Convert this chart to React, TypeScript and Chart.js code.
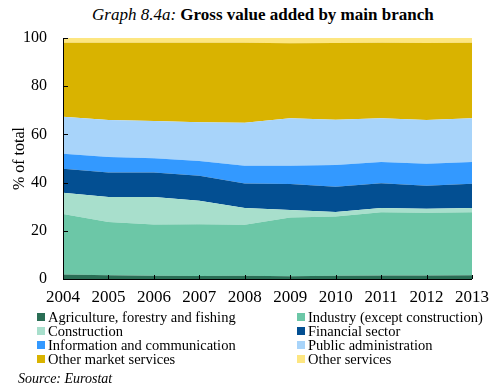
import React, { useEffect, useRef } from "react";
import { Chart, registerables } from "chart.js";

Chart.register(...registerables);

const years = ["2004", "2005", "2006", "2007", "2008", "2009", "2010", "2011", "2012", "2013"];
const agriculture = [1.9, 1.6, 1.3, 1.2, 1.3, 1.1, 1.3, 1.5, 1.5, 1.6];
const industry = [25.1, 22.0, 21.3, 21.5, 21.2, 24.4, 24.6, 26.2, 26.0, 26.1];
const construction = [8.8, 10.4, 11.4, 9.8, 7.0, 3.1, 1.9, 1.8, 1.7, 1.8];
const financial = [9.9, 10.2, 10.2, 10.3, 10.1, 10.8, 10.5, 10.2, 9.5, 10.0];
const information = [6.3, 6.4, 5.9, 6.2, 7.4, 7.6, 9.0, 8.8, 9.1, 9.0];
const publicAdmin = [15.3, 15.4, 15.5, 16.0, 17.8, 19.7, 18.8, 18.2, 18.2, 18.2];
const otherMarket = [30.7, 32.0, 32.4, 33.0, 33.2, 31.1, 31.8, 31.3, 31.9, 31.3];
const otherServices = [2.0, 2.0, 2.0, 2.0, 2.0, 2.2, 2.1, 2.0, 2.1, 2.0];
const yTicks = [0, 20, 40, 60, 80, 100];

const seriesNames = [
  "Agriculture, forestry and fishing",
  "Industry (except construction)",
  "Construction",
  "Financial sector",
  "Information and communication",
  "Public administration",
  "Other market services",
  "Other services",
];
const seriesData = [agriculture, industry, construction, financial, information, publicAdmin, otherMarket, otherServices];
const seriesColors = ["#2a6e55", "#6cc7a7", "#a8dfcc", "#034f92", "#3399ff", "#a8d4fa", "#d9b300", "#fde681"];

const FONT = "'Liberation Serif', 'Times New Roman', serif";

const axisPlugin = {
  id: "inwardTicks",
  afterDatasetsDraw(chart: any) {
    const { ctx, chartArea, scales } = chart;
    const x = scales.x;
    const y = scales.y;
    ctx.save();
    ctx.strokeStyle = "#000";
    ctx.lineWidth = 1;
    ctx.beginPath();
    ctx.moveTo(Math.round(chartArea.left) + 0.5, chartArea.top);
    ctx.lineTo(Math.round(chartArea.left) + 0.5, Math.round(chartArea.bottom) + 0.5);
    ctx.lineTo(chartArea.right, Math.round(chartArea.bottom) + 0.5);
    ctx.stroke();
    ctx.beginPath();
    years.forEach((_, i) => {
      const px = Math.round(x.getPixelForValue(i)) + 0.5;
      ctx.moveTo(px, chartArea.bottom);
      ctx.lineTo(px, chartArea.bottom - 4);
    });
    yTicks.forEach((v) => {
      const py = Math.round(y.getPixelForValue(v)) + 0.5;
      ctx.moveTo(chartArea.left, py);
      ctx.lineTo(chartArea.left + 5, py);
    });
    ctx.stroke();
    ctx.restore();
  },
};

export default function App() {
  const ref = useRef<HTMLCanvasElement>(null);
  useEffect(() => {
    if (!ref.current) return;
    const chart = new Chart(ref.current, {
      type: "line",
      data: {
        labels: years,
        datasets: seriesData.map((d, i) => ({
          label: seriesNames[i],
          data: d,
          backgroundColor: seriesColors[i],
          borderColor: seriesColors[i],
          borderWidth: 0,
          pointRadius: 0,
          tension: 0,
          fill: i === 0 ? "origin" : "-1",
        })),
      },
      options: {
        animation: false,
        responsive: false,
        maintainAspectRatio: false,
        layout: { padding: { left: 0, right: 17, top: 38, bottom: 0 } },
        plugins: { legend: { display: false }, tooltip: { enabled: false }, title: { display: false } },
        scales: {
          x: {
            offset: false,
            grid: { display: false, drawTicks: false },
            border: { display: false },
            ticks: { color: "#000", font: { family: FONT, size: 17, lineHeight: "38px" }, padding: 0, maxRotation: 0, autoSkip: false },
            afterFit: (s: any) => {
              s.height = 31;
            },
          },
          y: {
            stacked: true,
            min: 0,
            max: 100,
            grid: { display: false, drawTicks: false },
            border: { display: false },
            ticks: { stepSize: 20, color: "#000", font: { family: FONT, size: 16 }, padding: 16 },
            title: { display: true, text: "% of total", color: "#000", font: { family: FONT, size: 16 }, padding: { top: 10, bottom: 0 } },
            afterFit: (s: any) => {
              s.width = 63;
            },
          },
        },
      },
      plugins: [axisPlugin],
    });
    return () => chart.destroy();
  }, []);

  const legendRows = [0, 1, 2, 3];
  return (
    <div style={{ position: "absolute", left: 0, top: 0, width: 489, height: 385, background: "#fff", fontFamily: FONT, color: "#000" }}>
      <div style={{ position: "absolute", left: 92, top: 5, fontSize: 17, whiteSpace: "nowrap", lineHeight: "20px" }}>
        <i>Graph 8.4a:</i> <b>Gross value added by main branch</b>
      </div>
      <canvas ref={ref} width={489} height={310} style={{ position: "absolute", left: 0, top: 0, width: 489, height: 310 }} />
      {legendRows.map((r) =>
        [0, 1].map((c) => {
          const idx = r * 2 + c;
          return (
            <div
              key={idx}
              style={{ position: "absolute", left: c === 0 ? 37 : 297, top: 310 + r * 14, height: 14, display: "flex", alignItems: "center", whiteSpace: "nowrap", fontSize: 14.5, lineHeight: "14px" }}
            >
              <span style={{ display: "inline-block", width: 8, height: 8, background: seriesColors[idx], marginRight: 3 }} />
              <span>{seriesNames[idx]}</span>
            </div>
          );
        })
      )}
      <div style={{ position: "absolute", left: 18, top: 371, fontSize: 14, fontStyle: "italic", whiteSpace: "nowrap", lineHeight: "16px" }}>Source: Eurostat</div>
    </div>
  );
}
